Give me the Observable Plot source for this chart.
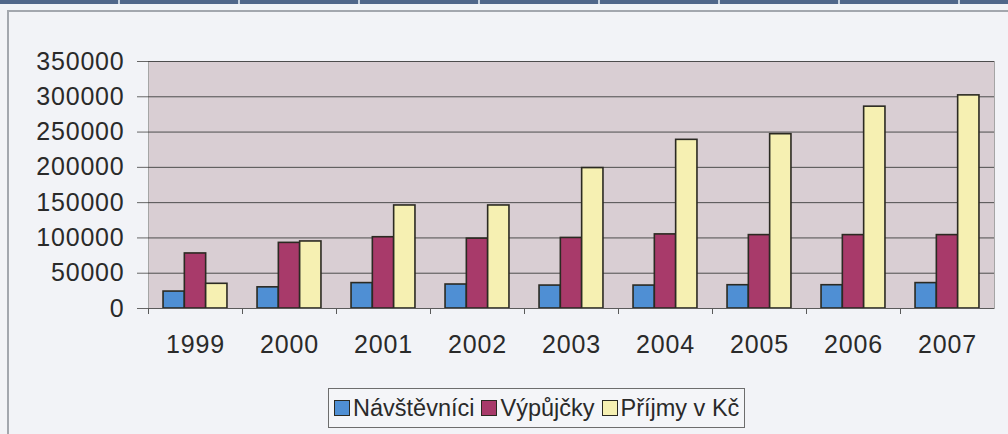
<!DOCTYPE html>
<html><head><meta charset="utf-8">
<script src="https://cdn.jsdelivr.net/npm/d3@7"></script>
<script src="https://cdn.jsdelivr.net/npm/@observablehq/plot@0.6"></script>
<style>
html,body{margin:0;padding:0;}
body{background:#f2f3f7;width:1008px;height:434px;overflow:hidden;position:relative;font-family:"Liberation Sans",Arial,sans-serif;color:#2a2a2a;}
#strip{position:absolute;left:0;top:0;width:1008px;height:4px;background:repeating-linear-gradient(90deg,#51678a 0 118px,#c9d3e0 118px 120px);}
#border{position:absolute;left:7px;top:10px;width:1001px;height:424px;border-left:2px solid #a3a7ae;border-top:2px solid #a3a7ae;box-sizing:border-box;}
#chart{position:absolute;left:0;top:0;}
#chart svg text{letter-spacing:0.8px;}
#legend{position:absolute;left:328px;top:388px;height:40px;box-sizing:border-box;border:1.5px solid #6d6d6d;background:#f4f5f8;display:flex;align-items:center;padding:0 5px 0 5px;font-size:23.5px;white-space:nowrap;}
#legend .it{display:flex;align-items:center;margin-right:7px;}
#legend .it:last-child{margin-right:0;}
#legend .sw{width:16px;height:16px;border:1.5px solid #2b2a22;box-sizing:border-box;margin-right:3px;}
</style>
</head><body>
<div id="strip"></div>
<div id="border"></div>
<div id="chart"></div>
<div id="legend"></div>
<script>
const years = ["1999","2000","2001","2002","2003","2004","2005","2006","2007"];
const seriesNames = ["Návštěvníci","Výpůjčky","Příjmy v Kč"];
const navstevnici = [24000,30000,36000,34000,32500,32500,33000,33000,36000];
const vypujcky = [78000,93000,101000,99000,100000,105000,104000,104000,104000];
const prijmy = [35000,95000,146000,146000,199000,239000,247000,286000,302000];
const seriesColors = ["#4f8fd4","#a83a6a","#f6f0b2"];
const yTicks = [0,50000,100000,150000,200000,250000,300000,350000];

const seriesValues = [navstevnici, vypujcky, prijmy];
const W = 1008, H = 372, ML = 148, MR = 14, MT = 61, MB = H - 308;
const bw = (W - ML - MR) / years.length;
const gap = 0.32;
const barW = bw * (1 - gap) / 3;

const barMarks = seriesValues.map((vals, s) =>
  Plot.barY(years.map((y, i) => ({year: y, value: vals[i], series: seriesNames[s]})), {
    x: "year", y: "value",
    fill: seriesColors[s], stroke: "#2b2a22", strokeWidth: 1.6,
    insetLeft: bw * gap / 2 + s * barW,
    insetRight: bw - bw * gap / 2 - (s + 1) * barW
  })
);

const chart = Plot.plot({
  width: W, height: H,
  marginLeft: ML, marginRight: MR, marginTop: MT, marginBottom: MB,
  style: {background: "transparent", fontFamily: "'Liberation Sans', Arial, sans-serif", color: "#2a2a2a"},
  x: {domain: years, padding: 0, label: null},
  y: {domain: [0, 350000], label: null},
  marks: [
    Plot.frame({fill: "#d9ced3", stroke: "#a5a5a5"}),
    Plot.ruleY(yTicks.slice(1), {stroke: "#4d4d4d", strokeWidth: 1}),
    ...barMarks,
    Plot.ruleY([0], {stroke: "#5a5a5a", strokeWidth: 1.2}),
    Plot.ruleX(years, {x: d => d, y1: 0, y2: 0, insetBottom: -6, dx: -bw / 2, stroke: "#5a5a5a"}),
    Plot.axisY({ticks: yTicks, tickFormat: "d", tickSize: 11, tickPadding: 13, fontSize: 25, stroke: "#666", fill: "#2a2a2a", label: null}),
    Plot.axisX({tickSize: 0, tickPadding: 27, fontSize: 25, fill: "#2a2a2a", label: null})
  ]
});
document.getElementById("chart").appendChild(chart);

const legend = document.getElementById("legend");
seriesNames.forEach((name, s) => {
  const it = document.createElement("div");
  it.className = "it";
  const sw = document.createElement("span");
  sw.className = "sw";
  sw.style.background = seriesColors[s];
  const tx = document.createElement("span");
  tx.textContent = name;
  it.appendChild(sw); it.appendChild(tx);
  legend.appendChild(it);
});
</script>
</body></html>
